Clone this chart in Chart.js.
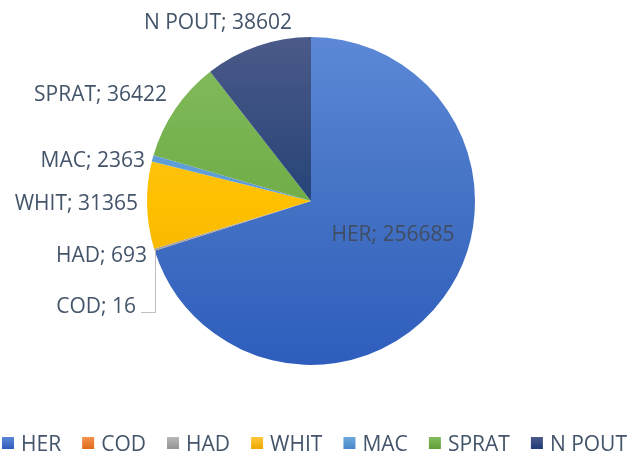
<!DOCTYPE html>
<html>
<head>
<meta charset="utf-8">
<script src="https://cdn.jsdelivr.net/npm/chart.js@4/dist/chart.umd.min.js"></script>
<style>
  html, body { margin: 0; padding: 0; background: #ffffff; }
  #wrap { width: 632px; height: 457px; position: relative; }
</style>
</head>
<body>
<div id="wrap"><canvas id="c" width="632" height="457"></canvas></div>
<script>
// ---- data ----
const categories = ['HER', 'COD', 'HAD', 'WHIT', 'MAC', 'SPRAT', 'N POUT'];
const catchValues = [256685, 16, 693, 31365, 2363, 36422, 38602];

// ---- styles ----
const baseColors = ['#4472C4', '#ED7D31', '#A5A5A5', '#FFC000', '#5B9BD5', '#70AD47', '#264478'];
const topColors = ['#5C88D7', '#F5934E', '#B8B8B8', '#FFC83A', '#6EA8DD', '#84BC5F', '#4B5A88'];
const bottomColors = ['#2E5DBD', '#DD6A1A', '#939393', '#EBA800', '#4888C9', '#5E9E37', '#1E3A78'];
const textColor = '#44546A';
const FONT = '21px "Open Sans"';

// label placement (pixel offsets from pie centre; right-aligned outside, centred for HER)
const labelLayout = [
  { dx: 82, dy: 32, align: 'center' },   // HER
  { dx: -175, dy: 104, align: 'right', leader: true }, // COD
  { dx: -164, dy: 53, align: 'right' },  // HAD
  { dx: -173, dy: 1, align: 'right' },   // WHIT
  { dx: -166, dy: -42, align: 'right' }, // MAC
  { dx: -144, dy: -108, align: 'right' },// SPRAT
  { dx: -19, dy: -180, align: 'right' }  // N POUT
];

function gradFill(ctx) {
  const chart = ctx.chart;
  const i = ctx.dataIndex;
  const area = chart.chartArea;
  if (!area) return baseColors[i];
  const g = chart.ctx.createLinearGradient(0, area.top, 0, area.bottom);
  g.addColorStop(0, topColors[i]);
  g.addColorStop(0.5, baseColors[i]);
  g.addColorStop(1, bottomColors[i]);
  return g;
}

const labelPlugin = {
  id: 'pieLabels',
  afterDatasetsDraw(chart) {
    const ctx = chart.ctx;
    const meta = chart.getDatasetMeta(0);
    const arcs = meta.data;
    if (!arcs.length) return;
    const cx = arcs[0].x, cy = arcs[0].y;
    ctx.save();
    ctx.font = FONT;
    ctx.fillStyle = textColor;
    ctx.textBaseline = 'alphabetic';
    categories.forEach((name, i) => {
      const L = labelLayout[i];
      const txt = name + '; ' + catchValues[i];
      const x = cx + L.dx, y = cy + L.dy;
      ctx.textAlign = L.align;
      ctx.fillStyle = i === 0 ? '#404D62' : textColor;
      ctx.fillText(txt, x, y + 7.5);
      if (L.leader) {
        const a = arcs[i];
        const mid = (a.startAngle + a.endAngle) / 2;
        const px = cx + Math.cos(mid) * a.outerRadius;
        const py = cy + Math.sin(mid) * a.outerRadius;
        ctx.strokeStyle = '#BFBFBF';
        ctx.lineWidth = 1;
        ctx.beginPath();
        ctx.moveTo(Math.round(px) + 0.5, py);
        ctx.lineTo(Math.round(px) + 0.5, Math.round(y + 7) + 0.5);
        ctx.lineTo(x + 5, Math.round(y + 7) + 0.5);
        ctx.stroke();
      }
    });
    ctx.restore();
  }
};

const legendPlugin = {
  id: 'bottomLegend',
  afterDraw(chart) {
    const ctx = chart.ctx;
    ctx.save();
    ctx.font = FONT;
    const box = 12, gapBoxText = 7;
    const widths = categories.map(n => ctx.measureText(n).width);
    const itemsW = widths.reduce((s, w) => s + box + gapBoxText + w, 0);
    const left = 2, right = 627;
    const gap = (right - left - itemsW) / (categories.length - 1);
    const yc = 443;
    let x = left;
    categories.forEach((n, i) => {
      const g = ctx.createLinearGradient(0, yc - box / 2, 0, yc + box / 2);
      g.addColorStop(0, topColors[i]);
      g.addColorStop(1, bottomColors[i]);
      ctx.fillStyle = g;
      ctx.fillRect(x, yc - box / 2, box, box);
      ctx.fillStyle = textColor;
      ctx.textAlign = 'left';
      ctx.textBaseline = 'alphabetic';
      ctx.fillText(n, x + box + gapBoxText, yc + 7.5);
      x += box + gapBoxText + widths[i] + gap;
    });
    ctx.restore();
  }
};

new Chart(document.getElementById('c'), {
  type: 'pie',
  data: {
    labels: categories,
    datasets: [{
      data: catchValues,
      backgroundColor: gradFill,
      borderWidth: 0
    }]
  },
  options: {
    responsive: false,
    animation: false,
    layout: { padding: { top: 37, bottom: 92, left: 0, right: 10 } },
    plugins: {
      legend: { display: false },
      tooltip: { enabled: false }
    }
  },
  plugins: [labelPlugin, legendPlugin]
});
</script>
</body>
</html>
